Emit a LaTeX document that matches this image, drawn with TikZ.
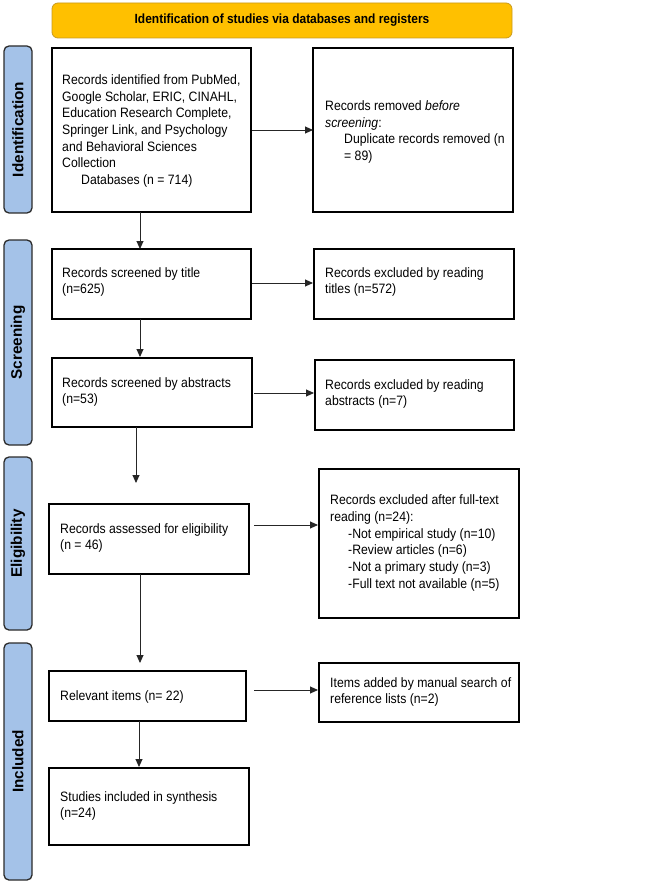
\documentclass[tikz,border=0pt]{standalone}
\usepackage{fontspec}
\setmainfont{Liberation Sans}
\newfontfamily\narrowfont[FakeStretch=0.9]{Liberation Sans}
\usetikzlibrary{arrows.meta}
\definecolor{hdrfill}{HTML}{FFC000}
\definecolor{hdrline}{HTML}{C99A1E}
\definecolor{sidefill}{HTML}{A4C2E8}
\definecolor{sideline}{HTML}{2B2B2B}
\tikzset{
  box/.style={draw=black, line width=1.3pt, inner sep=0pt},
  txt/.style={anchor=west, align=left, inner sep=0pt, font=\narrowfont\fontsize{13.6}{16.7}\selectfont},
  side/.style={draw=sideline, fill=sidefill, line width=1.3pt, rounded corners=5pt},
  sidetxt/.style={rotate=90, font=\bfseries\fontsize{15.3}{17}\selectfont, inner sep=0pt},
  arr/.style={draw=black!85, line width=0.9pt, -{Triangle[length=8pt,width=7pt]}},
}
\begin{document}
\begin{tikzpicture}[x=1pt,y=-1pt]
\useasboundingbox (0,0) rectangle (649,885);
% header
\draw[draw=hdrline, fill=hdrfill, line width=0.8pt, rounded corners=6pt] (52,3) rectangle (512,38);
\node[font=\narrowfont\bfseries\fontsize{13.3}{15}\selectfont] (hdr) at (282,20.5) {Identification of studies via databases and registers};
% side labels
\draw[side] (4,46) rectangle (32,213);
\node[sidetxt] (sid) at (18,129.5) {Identification};
\draw[side] (4,240) rectangle (32,445);
\node[sidetxt] (sscr) at (18,342.5) {Screening};
\draw[side] (4,457) rectangle (32,630);
\node[sidetxt] (selg) at (18,543.5) {Eligibility};
\draw[side] (4,643) rectangle (32,880);
\node[sidetxt] (sinc) at (18,761.5) {Included};
% boxes
\draw[box] (52,48) rectangle (251,212);
\node[txt] (t1) at (62,131) {Records identified from PubMed,\\Google Scholar, ERIC, CINAHL,\\Education Research Complete,\\Springer Link, and Psychology\\and Behavioral Sciences\\Collection\\\hspace*{19pt}Databases (n = 714)};
\draw[box] (313,48) rectangle (513,212);
\node[txt] (t2) at (325,132) {Records removed \textit{before}\\\textit{screening}:\\\hspace*{19pt}Duplicate records removed (n\\\hspace*{19pt}= 89)};

\draw[box] (52,249) rectangle (251,319);
\node[txt] (t3) at (62,282) {Records screened by title\\(n=625)};
\draw[box] (314,249) rectangle (514,319);
\node[txt] (t4) at (325,282) {Records excluded by reading\\titles (n=572)};

\draw[box] (52,358) rectangle (252,427);
\node[txt] (t5) at (62,392) {Records screened by abstracts\\(n=53)};
\draw[box] (315,360) rectangle (514,430);
\node[txt] (t6) at (325,394) {Records excluded by reading\\abstracts (n=7)};

\draw[box] (49,504) rectangle (249,574);
\node[txt] (t7) at (60,538) {Records assessed for eligibility\\(n = 46)};
\draw[box] (319,469) rectangle (519,618);
\node[txt] (t8) at (330,543) {Records excluded after full-text\\reading (n=24):\\\hspace*{18pt}-Not empirical study (n=10)\\\hspace*{18pt}-Review articles (n=6)\\\hspace*{18pt}-Not a primary study (n=3)\\\hspace*{18pt}-Full text not available (n=5)};

\draw[box] (49,671) rectangle (246,721);
\node[txt] (t9) at (60,697) {Relevant items (n= 22)};
\draw[box] (319,663) rectangle (519,722);
\node[txt] (t10) at (330,692) {Items added by manual search of\\reference lists (n=2)};

\draw[box] (49,768) rectangle (249,845);
\node[txt] (t11) at (60,806) {Studies included in synthesis\\(n=24)};

% connectors (named coordinates at box edges)
\coordinate (a1s) at (252,130); \coordinate (a1e) at (313,130);
\coordinate (d1s) at (140,212); \coordinate (d1e) at (140,249);
\coordinate (a2s) at (252,283); \coordinate (a2e) at (313,283);
\coordinate (d2s) at (140,319); \coordinate (d2e) at (140,357);
\coordinate (a3s) at (254,393); \coordinate (a3e) at (314,393);
\coordinate (d3s) at (136,427); \coordinate (d3e) at (136,483);
\coordinate (a4s) at (254,525); \coordinate (a4e) at (318,525);
\coordinate (d4s) at (140,574); \coordinate (d4e) at (140,663);
\coordinate (a5s) at (254,690); \coordinate (a5e) at (318,690);
\coordinate (d5s) at (139,721); \coordinate (d5e) at (139,767);
\draw[arr] (a1s) -- (a1e);
\draw[arr] (d1s) -- (d1e);
\draw[arr] (a2s) -- (a2e);
\draw[arr] (d2s) -- (d2e);
\draw[arr] (a3s) -- (a3e);
\draw[arr] (d3s) -- (d3e);
\draw[arr] (a4s) -- (a4e);
\draw[arr] (d4s) -- (d4e);
\draw[arr] (a5s) -- (a5e);
\draw[arr] (d5s) -- (d5e);
\end{tikzpicture}
\end{document}
